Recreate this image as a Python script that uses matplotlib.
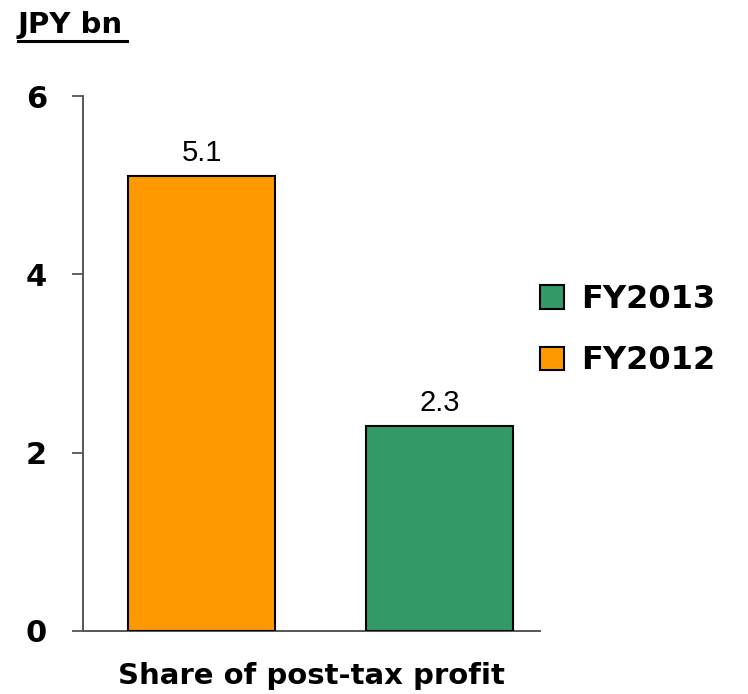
import matplotlib.pyplot as plt
from matplotlib.patches import Patch

categories = ["FY2012", "FY2013"]
values = [5.1, 2.3]
bar_colors = ["#FF9900", "#339966"]
yticks = [0, 2, 4, 6]
legend_order = ["FY2013", "FY2012"]

fig = plt.figure(figsize=(7.48, 6.94), dpi=100)
ax = fig.add_axes([83 / 748, 1 - 631 / 694, (540 - 83) / 748, (631 - 96) / 694])

x = list(range(len(categories)))
ax.bar(x, values, width=0.62, color=bar_colors, edgecolor="black", linewidth=1.5, zorder=3)

for xi, v in zip(x, values):
    ax.annotate(f"{v:.1f}", (xi, v), xytext=(0, 11), textcoords="offset points",
                ha="center", va="baseline", fontsize=21, family="Liberation Sans")

ax.set_xlim(-0.5, 1.424)
ax.set_ylim(0, 6)
ax.set_yticks(yticks)
ax.set_yticklabels([str(t) for t in yticks], fontsize=22, fontweight="bold")
ax.set_xticks([])
ax.tick_params(axis="y", length=8, width=1.3, color="#555555", pad=18)

for side in ["top", "right"]:
    ax.spines[side].set_visible(False)
for side in ["left", "bottom"]:
    ax.spines[side].set_color("#555555")
    ax.spines[side].set_linewidth(1.4)

ax.set_xlabel("Share of post-tax profit", fontsize=21, fontweight="bold", labelpad=22)

fig.text(18 / 748, 1 - 25 / 694, "JPY bn", fontsize=21, fontweight="bold",
         ha="left", va="center")
fig.lines.append(plt.Line2D([18 / 748, 127 / 748], [1 - 41 / 694, 1 - 41 / 694],
                            transform=fig.transFigure, color="black", linewidth=2.2))

color_map = dict(zip(categories, bar_colors))
handles = [Patch(facecolor=color_map[c], edgecolor="black", linewidth=1.5, label=c)
           for c in legend_order]
fig.legend(handles=handles, loc="upper left", bbox_to_anchor=(540 / 748, 1 - 284 / 694),
           frameon=False, prop={"size": 23, "weight": "bold"}, borderpad=0, borderaxespad=0,
           handlelength=0.75, handleheight=0.75, handletextpad=0.55, labelspacing=0.95)

fig.savefig("out.png", dpi=100)
